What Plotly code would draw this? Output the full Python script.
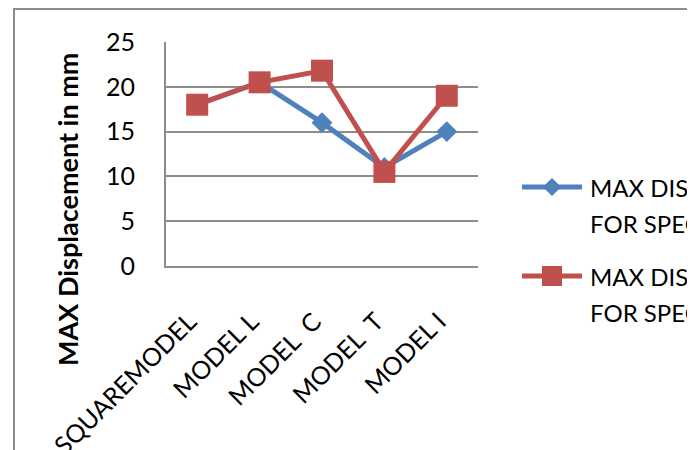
import plotly.graph_objects as go

# Category labels and the two displacement series (mm)
categories = ["SQUAREMODEL", "MODEL L", "MODEL\u00a0\u00a0C", "MODEL\u00a0\u00a0T", "MODEL I"]
series_names = ["MAX DISPLACEMENT FOR SPECIMEN 1", "MAX DISPLACEMENT FOR SPECIMEN 2"]
displacement_1 = [18, 20.5, 16, 11, 15]
displacement_2 = [18, 20.5, 21.8, 10.5, 19]
y_ticks = [0, 5, 10, 15, 20, 25]

BLUE = "#4F81BD"
RED = "#C0504D"
GRID = "#8c8c8c"
FONT = "Lato"

W, H = 687, 450
# plot-area box in pixels
PX0, PX1, PY0, PY1 = 166, 478, 42, 266

fig = go.Figure()

fig.add_trace(go.Scatter(
    x=categories, y=displacement_1, name=series_names[0], mode="lines+markers",
    line=dict(color=BLUE, width=5),
    marker=dict(symbol="diamond", size=16, color=BLUE),
    showlegend=False, cliponaxis=False,
))
fig.add_trace(go.Scatter(
    x=categories, y=displacement_2, name=series_names[1], mode="lines+markers",
    line=dict(color=RED, width=5),
    marker=dict(symbol="square", size=22, color=RED),
    showlegend=False, cliponaxis=False,
))

# Legend entries drawn on a pixel-space overlay axis
legend_rows = [(187, BLUE, "diamond", 14), (276, RED, "square", 20)]
for (ly, col, sym, sz), name in zip(legend_rows, series_names):
    fig.add_trace(go.Scatter(
        x=[522, 582], y=[ly, ly], mode="lines", line=dict(color=col, width=5),
        xaxis="x2", yaxis="y2", showlegend=False, hoverinfo="skip",
    ))
    fig.add_trace(go.Scatter(
        x=[552], y=[ly], mode="markers", marker=dict(symbol=sym, size=sz, color=col),
        xaxis="x2", yaxis="y2", showlegend=False, hoverinfo="skip",
    ))
    first, second = name.split(" FOR ")
    for txt, ty in ((first, ly), ("FOR " + second, ly + 36)):
        fig.add_annotation(
            x=588 / W, y=1 - ty / H, xref="paper", yref="paper",
            xanchor="left", yanchor="middle", text=txt, showarrow=False,
            font=dict(family=FONT, size=24, color="#000000"),
        )

# Y-axis title
fig.add_annotation(
    x=67 / W, y=1 - 210 / H, xref="paper", yref="paper",
    text="<b>MAX Displacement in mm</b>", textangle=-90, showarrow=False,
    xanchor="center", yanchor="middle",
    font=dict(family=FONT, size=27, color="#000000"),
)

# Outer chart-area border (runs off the right and bottom edges)
fig.add_shape(
    type="rect", xref="paper", yref="paper",
    x0=14 / W, x1=1.2, y0=-0.2, y1=1 - 9 / H,
    line=dict(color=GRID, width=2), fillcolor="rgba(0,0,0,0)", layer="below",
)

fig.update_layout(
    template="none",
    width=W, height=H,
    margin=dict(l=0, r=0, t=0, b=0, autoexpand=False),
    paper_bgcolor="white", plot_bgcolor="rgba(0,0,0,0)",
    font=dict(family=FONT, size=24, color="#000000"),
    xaxis=dict(
        type="category", categoryorder="array", categoryarray=categories,
        range=[-0.5, len(categories) - 0.5],
        domain=[PX0 / W, PX1 / W],
        showgrid=False, showline=True, linecolor=GRID, linewidth=2,
        ticks="", tickangle=-45, automargin=False,
        ticklabelstandoff=29, ticklabelshift=-8,
        tickfont=dict(family=FONT, size=25, color="#000000"),
        zeroline=False, fixedrange=True,
    ),
    yaxis=dict(
        range=[0, 25], tickvals=y_ticks,
        domain=[1 - PY1 / H, 1 - PY0 / H],
        showgrid=True, gridcolor=GRID, gridwidth=2,
        showline=True, linecolor=GRID, linewidth=2,
        ticks="", automargin=False, ticklabelstandoff=24,
        tickfont=dict(family=FONT, size=25, color="#000000"),
        zeroline=False, fixedrange=True,
    ),
    xaxis2=dict(domain=[0, 1], range=[0, W], visible=False, fixedrange=True),
    yaxis2=dict(domain=[0, 1], range=[H, 0], visible=False, fixedrange=True),
    showlegend=False,
)

fig.write_html("out.html", config={"displayModeBar": False, "staticPlot": True})
